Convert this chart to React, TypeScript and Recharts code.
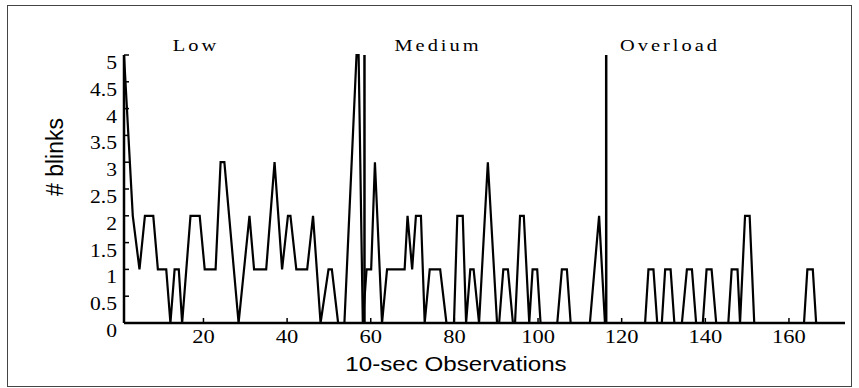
import React from 'react';
import { LineChart, Line, XAxis, YAxis, ReferenceLine } from 'recharts';

// vertices of the blink trace
const obs = [
  1, 3.1, 4.7, 6, 8, 9.1, 11.1, 12.1, 13.1, 14.1, 14.9, 16.9, 19.1, 20.3, 22.9, 24.1, 25, 28.4, 31, 32.1,
  35, 37, 38.8, 40.2, 40.8, 42.2, 44.8, 46.2, 48, 49.9, 50.7, 52.2, 53.7, 56.6, 57.1, 58.1, 59, 60.1, 61, 62.7,
  63.9, 68.1, 68.8, 69.9, 70.8, 72, 72.9, 74.1, 76.6, 78.1, 79.9, 80.7, 82, 82.8, 83.8, 84.6, 85.9, 88, 90.2, 90.7,
  91.7, 92.8, 94, 94.5, 95.7, 96.6, 97.9, 98.7, 99.8, 100.6, 104.6, 105.7, 106.9, 107.8, 112.4, 114.6, 116, 125.6, 126.4, 127.6,
  128.5, 129.6, 130.4, 131.7, 132.6, 134.4, 135.6, 136.8, 137.8, 139.4, 140.3, 141.5, 142.6, 145.5, 146.3, 147.7, 148.3, 149.5, 150.6, 151.7,
  163.6, 164.4, 165.7, 166.5, 173.4,
];
const blinks = [
  5, 2, 1, 2, 2, 1, 1, 0, 1, 1, 0, 2, 2, 1, 1, 3, 3, 0, 2, 1,
  1, 3, 1, 2, 2, 1, 1, 2, 0, 1, 1, 0, 0, 5, 5, 0, 1, 1, 3, 0,
  1, 1, 2, 1, 2, 2, 0, 1, 1, 0, 0, 2, 2, 0, 1, 1, 0, 3, 0, 0,
  1, 1, 0, 0, 2, 2, 0, 1, 1, 0, 0, 1, 1, 0, 0, 2, 0, 0, 1, 1,
  0, 0, 1, 1, 0, 0, 1, 1, 0, 0, 1, 1, 0, 0, 1, 1, 0, 2, 2, 0,
  0, 1, 1, 0, 0,
];

const xTicks = [20, 40, 60, 80, 100, 120, 140, 160];
const yTicks = [0, 0.5, 1, 1.5, 2, 2.5, 3, 3.5, 4, 4.5, 5];
const boundaries = [58.5, 116.3];
const phases = ['Low', 'Medium', 'Overload'];

const data = obs.map((x, i) => ({ x, y: blinks[i] }));

const serif = '"Liberation Serif", "Times New Roman", serif';
const sans = '"Liberation Sans", Arial, sans-serif';

// the scanned figure is stretched sideways, so text gets a horizontal scale
const XTick = ({ x, y, payload }: any) => (
  <g>
    <line x1={x} x2={x} y1={y} y2={y - 5} stroke="#000" strokeWidth={1.5} />
    <text
      transform={`translate(${x} ${y + 20}) scale(1.25 1)`}
      textAnchor="middle"
      fontFamily={serif}
      fontSize={18}
      fill="#000"
    >
      {payload.value}
    </text>
  </g>
);

const YTick = ({ x, y, payload }: any) => (
  <g>
    <line x1={x} x2={x + 5} y1={y} y2={y} stroke="#000" strokeWidth={1.5} />
    <text
      transform={`translate(${x - 7} ${y + 14}) scale(1.2 1)`}
      textAnchor="end"
      fontFamily={serif}
      fontSize={18}
      fill="#000"
    >
      {payload.value}
    </text>
  </g>
);

const phasePos = [196, 438, 670];

export default function App() {
  return (
    <div style={{ position: 'absolute', left: 0, top: 0, width: 859, height: 388, background: '#fff' }}>
      <div
        style={{
          position: 'absolute',
          left: 7,
          top: 5,
          width: 845,
          height: 382,
          border: '1px solid #444',
          boxSizing: 'border-box',
        }}
      />
      <LineChart width={859} height={388} data={data} margin={{ top: 55, right: 14, left: 0, bottom: 0 }}>
        <XAxis
          dataKey="x"
          type="number"
          domain={[1, 173.4]}
          ticks={xTicks}
          interval={0}
          height={65}
          tickSize={0}
          tickMargin={0}
          tickLine={false}
          axisLine={{ stroke: '#000', strokeWidth: 2.5 }}
          tick={<XTick />}
        />
        <YAxis
          type="number"
          domain={[0, 5]}
          ticks={yTicks}
          interval={0}
          width={124}
          tickSize={0}
          tickMargin={0}
          tickLine={false}
          axisLine={{ stroke: '#000', strokeWidth: 2.5 }}
          tick={<YTick />}
        />
        {boundaries.map((b) => (
          <ReferenceLine key={b} x={b} stroke="#000" strokeWidth={2.5} />
        ))}
        <Line
          type="linear"
          dataKey="y"
          stroke="#000"
          strokeWidth={2.2}
          dot={false}
          isAnimationActive={false}
        />
      </LineChart>
      <svg width={859} height={388} style={{ position: 'absolute', left: 0, top: 0, pointerEvents: 'none' }}>
        {phases.map((p, i) => (
          <text
            key={p}
            transform={`translate(${phasePos[i]} 51) scale(1.2 1)`}
            textAnchor="middle"
            fontFamily={serif}
            fontSize={17}
            letterSpacing={2.5}
          >
            {p}
          </text>
        ))}
        <text
          transform="translate(63 157) rotate(-90)"
          textAnchor="middle"
          fontFamily={sans}
          fontSize={23}
        >
          # blinks
        </text>
        <text
          transform="translate(456 371) scale(1.15 1)"
          textAnchor="middle"
          fontFamily={sans}
          fontSize={21}
        >
          10-sec Observations
        </text>
      </svg>
    </div>
  );
}
